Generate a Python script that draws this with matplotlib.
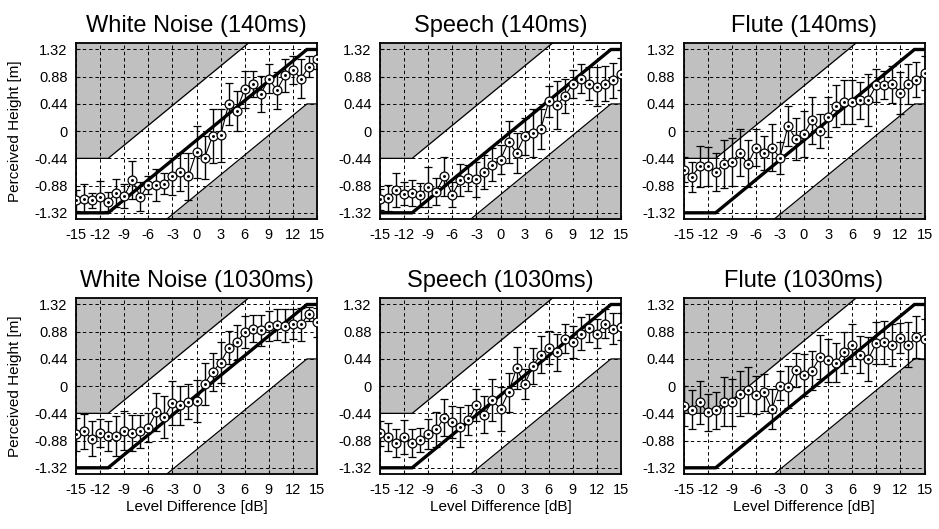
import numpy as np
import matplotlib
matplotlib.use('Agg')
import matplotlib.pyplot as plt

plt.rcParams['font.family'] = ['Liberation Sans', 'DejaVu Sans']

# ---------------- data ----------------
level_db = [-15, -14, -13, -12, -11, -10, -9, -8, -7, -6, -5, -4, -3, -2, -1, 0,
            1, 2, 3, 4, 5, 6, 7, 8, 9, 10, 11, 12, 13, 14, 15]

titles = ["White Noise (140ms)", "Speech (140ms)", "Flute (140ms)",
          "White Noise (1030ms)", "Speech (1030ms)", "Flute (1030ms)"]

wn140_mean = [-1.115, -1.09, -1.115, -1.06, -1.14, -1.0, -1.05, -0.79, -1.06, -0.87, -0.87,
              -0.85, -0.73, -0.66, -0.73, -0.33, -0.43, -0.08, -0.07, 0.44, 0.33, 0.68,
              0.77, 0.60, 0.85, 0.66, 0.90, 0.99, 0.85, 1.04, 1.16]
wn140_err = [0.17, 0.24, 0.12, 0.26, 0.15, 0.22, 0.19, 0.31, 0.23, 0.15, 0.26, 0.17, 0.30,
             0.31, 0.38, 0.42, 0.35, 0.44, 0.43, 0.34, 0.32, 0.30, 0.21, 0.29, 0.23, 0.30,
             0.26, 0.22, 0.32, 0.17, 0.16]

sp140_mean = [-1.10, -1.08, -0.95, -1.01, -1.0, -1.03, -0.90, -0.98, -0.73, -1.03, -0.79,
              -0.75, -0.78, -0.66, -0.54, -0.46, -0.17, -0.35, -0.08, -0.03, 0.03, 0.48,
              0.42, 0.57, 0.76, 0.85, 0.77, 0.72, 0.77, 0.82, 0.92]
sp140_err = [0.17, 0.21, 0.28, 0.18, 0.21, 0.19, 0.32, 0.22, 0.32, 0.20, 0.26, 0.21, 0.28,
             0.28, 0.27, 0.24, 0.34, 0.32, 0.30, 0.38, 0.32, 0.25, 0.39, 0.27, 0.23, 0.23,
             0.26, 0.32, 0.29, 0.28, 0.26]

fl140_mean = [-0.62, -0.74, -0.57, -0.57, -0.66, -0.53, -0.50, -0.35, -0.53, -0.27, -0.35,
              -0.27, -0.43, 0.08, -0.13, -0.04, 0.18, 0.0, 0.23, 0.40, 0.47, 0.47, 0.50,
              0.51, 0.74, 0.75, 0.76, 0.62, 0.76, 0.83, 0.94]
fl140_err = [0.20, 0.24, 0.33, 0.31, 0.31, 0.39, 0.39, 0.38, 0.38, 0.30, 0.27, 0.38, 0.26,
             0.32, 0.34, 0.37, 0.38, 0.27, 0.33, 0.34, 0.35, 0.35, 0.30, 0.42, 0.27, 0.23,
             0.30, 0.34, 0.32, 0.28, 0.28]

wn1030_mean = [-0.78, -0.73, -0.85, -0.76, -0.81, -0.81, -0.72, -0.76, -0.73, -0.67, -0.42,
               -0.50, -0.27, -0.31, -0.25, -0.24, 0.04, 0.23, 0.38, 0.62, 0.71, 0.87, 0.93,
               0.90, 0.97, 0.99, 0.98, 1.01, 1.0, 1.17, 1.03]
wn1030_err = [0.27, 0.28, 0.28, 0.23, 0.24, 0.32, 0.32, 0.29, 0.27, 0.24, 0.31, 0.34, 0.35,
              0.31, 0.28, 0.34, 0.34, 0.31, 0.33, 0.27, 0.28, 0.26, 0.22, 0.25, 0.24, 0.25,
              0.26, 0.24, 0.27, 0.11, 0.23]

sp1030_mean = [-0.76, -0.82, -0.92, -0.82, -0.92, -0.87, -0.77, -0.70, -0.51, -0.58, -0.66,
               -0.55, -0.31, -0.46, -0.23, -0.37, -0.10, 0.29, 0.03, 0.32, 0.51, 0.62, 0.55,
               0.77, 0.72, 0.85, 0.94, 0.85, 1.01, 0.93, 0.96]
sp1030_err = [0.20, 0.23, 0.23, 0.28, 0.22, 0.19, 0.24, 0.28, 0.30, 0.26, 0.32, 0.24, 0.26,
              0.30, 0.34, 0.35, 0.32, 0.34, 0.24, 0.29, 0.30, 0.27, 0.30, 0.24, 0.26, 0.26,
              0.22, 0.24, 0.23, 0.25, 0.22]

fl1030_mean = [-0.32, -0.38, -0.26, -0.42, -0.39, -0.25, -0.26, -0.12, -0.06, -0.14, -0.10,
               -0.37, 0.01, -0.01, 0.26, 0.18, 0.25, 0.47, 0.42, 0.38, 0.55, 0.67, 0.51,
               0.44, 0.69, 0.71, 0.67, 0.78, 0.67, 0.79, 0.76]
fl1030_err = [0.33, 0.32, 0.35, 0.30, 0.30, 0.39, 0.38, 0.36, 0.37, 0.31, 0.30, 0.32, 0.24,
              0.34, 0.27, 0.34, 0.32, 0.35, 0.35, 0.31, 0.33, 0.34, 0.30, 0.36, 0.34, 0.35,
              0.34, 0.24, 0.36, 0.34, 0.32]

means = [wn140_mean, sp140_mean, fl140_mean, wn1030_mean, sp1030_mean, fl1030_mean]
errs = [wn140_err, sp140_err, fl140_err, wn1030_err, sp1030_err, fl1030_err]

# reference (ideal) response and tolerance band
ideal_x = [-15, -11, 13.75, 15]
ideal_y = [-1.32, -1.32, 1.32, 1.32]
band = 0.88

xticks = [-15, -12, -9, -6, -3, 0, 3, 6, 9, 12, 15]
xticklabels = ["-15", "-12", "-9", "-6", "-3", "0", "3", "6", "9", "12", "15"]
yticks = [1.32, 0.88, 0.44, 0, -0.44, -0.88, -1.32]
yticklabels = ["1.32", "0.88", "0.44", "0", "-0.44", "-0.88", "-1.32"]

# ---------------- figure ----------------
W, H = 939, 529
fig = plt.figure(figsize=(W / 100, H / 100), dpi=100)

lefts = [76, 380, 683.5]
tops = [43.3, 298.3]
aw, ah = 241, 176

ylo, yhi = -1.425, 1.42
xx = np.linspace(-15, 15, 1201)
ideal = np.interp(xx, ideal_x, ideal_y)

for i in range(6):
    r, c = divmod(i, 3)
    ax = fig.add_axes([lefts[c] / W, 1 - (tops[r] + ah) / H, aw / W, ah / H])
    ax.fill_between(xx, ideal + band, 3, color='#c0c0c0', lw=0, zorder=0.5)
    ax.fill_between(xx, -3, ideal - band, color='#c0c0c0', lw=0, zorder=0.5)
    ax.plot(xx, ideal + band, color='k', lw=0.9, zorder=2)
    ax.plot(xx, ideal - band, color='k', lw=0.9, zorder=2)
    ax.plot(ideal_x, ideal_y, color='k', lw=2.4, zorder=2.5, solid_joinstyle='miter')
    ax.errorbar(level_db, means[i], yerr=errs[i], fmt='-o', color='k', lw=0.8,
                ms=6.4, mfc='white', mec='k', mew=0.9, elinewidth=1.0,
                capsize=3.2, capthick=1.0, zorder=3)
    ax.plot(level_db, means[i], linestyle='none', marker='o', ms=1.1, color='k', zorder=4)

    ax.set_xlim(-15, 15)
    ax.set_ylim(ylo, yhi)
    ax.set_xticks(xticks)
    ax.set_xticklabels(xticklabels)
    ax.set_yticks(yticks)
    ax.set_yticklabels(yticklabels)
    ax.tick_params(direction='in', length=3, width=0.8, labelsize=10.5, pad=6)
    ax.grid(True, color='k', linestyle=(0, (3.5, 3)), linewidth=0.7)
    for s in ax.spines.values():
        s.set_linewidth(1.3)
    ax.set_title(titles[i], fontsize=17, pad=8)
    if c == 0:
        ax.set_ylabel("Perceived Height [m]", fontsize=11)
        ax.yaxis.set_label_coords(-54 / aw, 0.5)
    if r == 1:
        ax.set_xlabel("Level Difference [dB]", fontsize=11)
        ax.xaxis.set_label_coords(0.5, -26 / ah)

fig.savefig("out.png", dpi=100)
